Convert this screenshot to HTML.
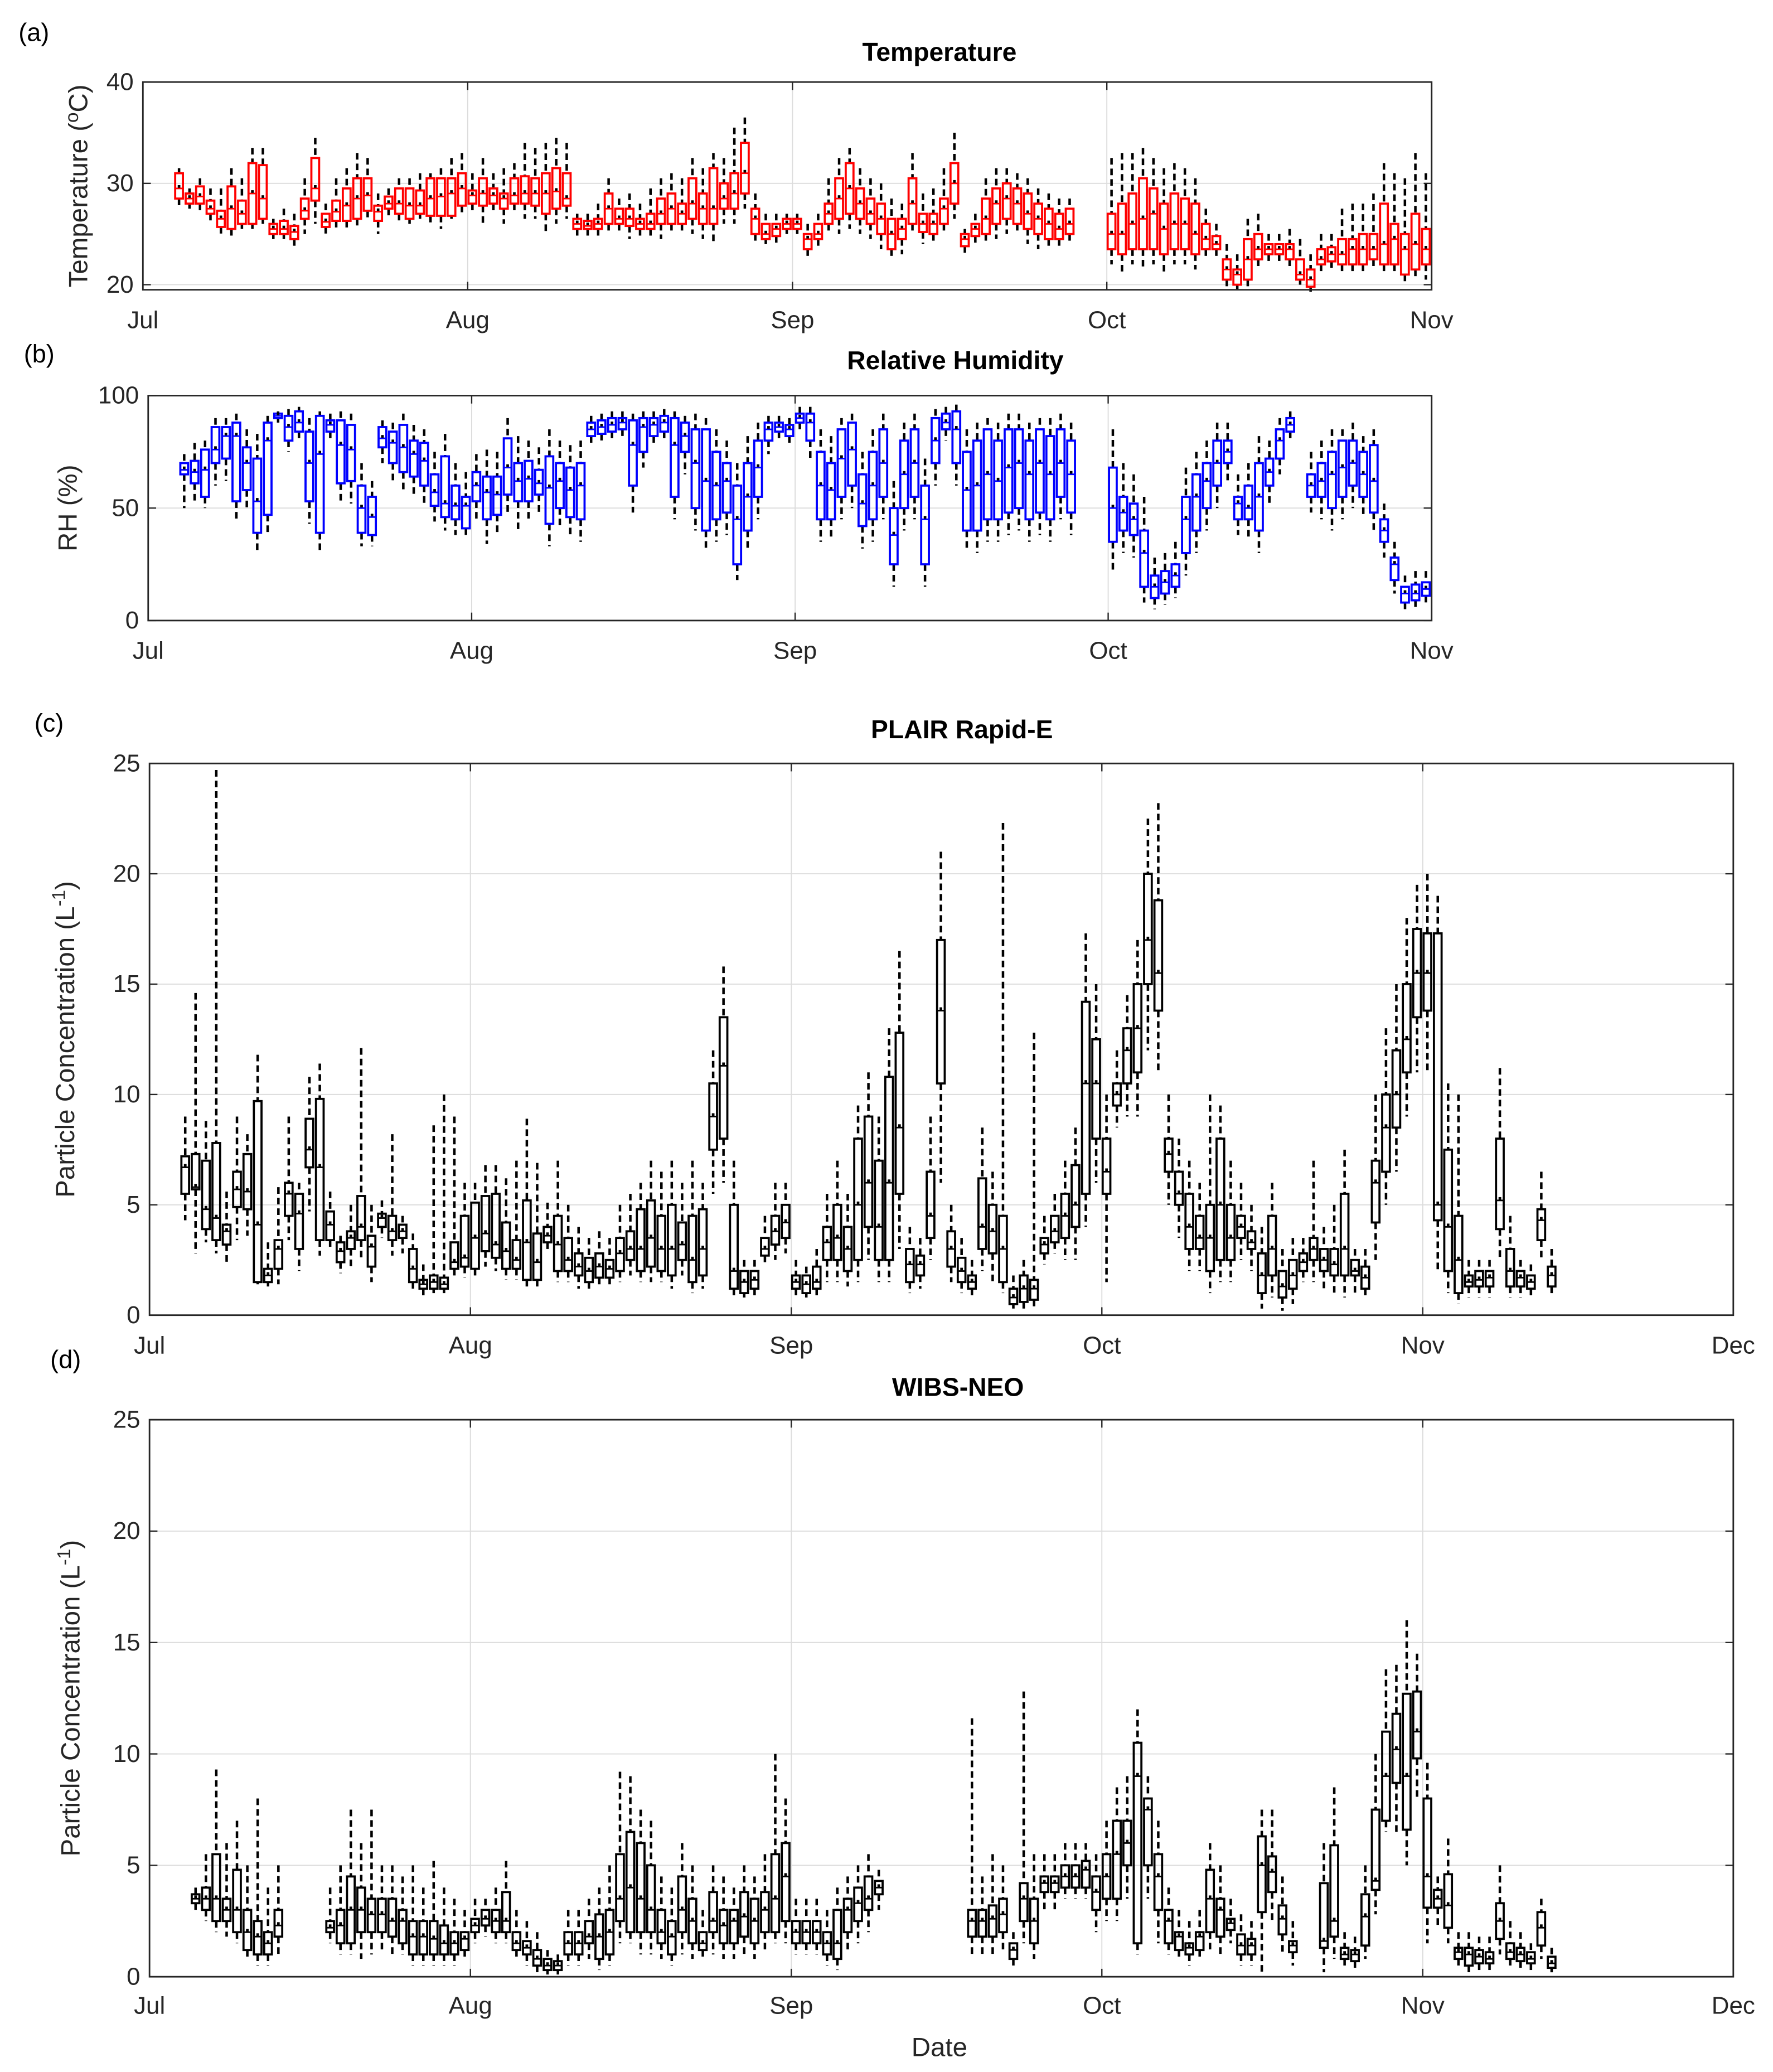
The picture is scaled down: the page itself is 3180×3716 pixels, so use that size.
<!DOCTYPE html>
<html><head><meta charset="utf-8"><style>
html,body{margin:0;padding:0;background:#fff;}
svg{display:block;font-family:"Liberation Sans",Arial,sans-serif;}
</style></head>
<body>
<svg id="fig" xmlns="http://www.w3.org/2000/svg" width="3180" height="3716" viewBox="0 0 1340 1566" preserveAspectRatio="none">
<rect x="0" y="0" width="1340" height="1566" fill="#fff"/>
<g id="static"></g>
</svg>
<script>
// ---------- Month ticks ----------
const monthNames = ["Jul","Aug","Sep","Oct","Nov","Dec"];
const monthDays = [0,31,62,92,123,153];

// ---------- (a) Temperature ----------
const tDays = [3,4,5,6,7,8,9,10,11,12,13,14,15,16,17,18,19,20,21,22,23,24,25,26,27,28,29,30,
31,32,33,34,35,36,37,38,39,40,41,42,43,44,45,46,47,48,49,50,51,52,53,54,55,56,57,58,59,60,61,
62,63,64,65,66,67,68,69,70,71,72,73,74,75,76,77,78,79,80,81,82,83,84,85,86,87,88,
92,93,94,95,96,97,98,99,100,101,102,103,104,105,106,107,108,109,110,111,112,113,114,115,116,117,118,119,120,121,122];
const tMed = [29.5,28.5,28.7,27.5,26.5,27.5,27,29,28.5,25.5,25.5,25.2,27.3,29.5,26.2,27.2,27.8,28.5,28.8,27.2,28,28,27.8,27.8,28.5,28.7,29,29.5,
28.8,29,28.8,28.5,28.8,29,29,29,29.2,28.5,26,25.8,26,27.5,26.5,26.5,26,26,27,27.5,27,28,27.5,27.5,28.5,29,31,26.5,25,25.5,26,
26,24.5,25,27,28.5,29.5,28,27,26.5,25,25.5,28,26,26,27.5,30,24.5,25.5,26.5,28,28.5,28,27,26.5,26,25.5,26,
25,25,26,26.5,27,25.5,26,26,25,24.5,24,21.5,21,22.5,23.5,23.5,23.5,23.5,21,20.5,22.5,23,23,23.5,23.5,23.5,24,24.5,23.5,24,23.5];
const tQ1 = [28.5,28,28,27,25.7,25.5,26,26,26.5,25,25,24.5,26.5,28.3,25.7,26.3,26.3,26.5,27.3,26.3,27.5,27,26.5,27,26.8,26.8,26.8,27.8,
28,27.8,28,27.5,28,28,27.8,27,27.5,27.8,25.5,25.5,25.5,26,26,25.8,25.5,25.5,26,26,26,26.5,26,26,27.5,27.5,29,25,24.5,24.8,25.5,
25.5,23.5,24.5,26,26.5,27,26.5,26,25,23.5,24.5,26,25.2,25,26,28,23.8,24.8,25,26,26.5,26,25.5,25,24.5,24.5,25,
23.5,23,23.5,23.5,23.5,23,23.5,23.5,23,23.5,23.5,20.5,20,20.5,22.5,23,23,22.5,20.5,19.8,22,22.3,22,22,22,22.5,22,22,21,21.5,22];
const tQ3 = [31,29,29.7,28.3,27.3,29.7,28.3,32,31.8,26,26.3,25.8,28.5,32.5,27,28.3,29.5,30.5,30.5,27.8,28.7,29.5,29.5,29.3,30.5,30.5,30.5,31,
29.3,30.5,29.5,29,30.5,30.7,30.5,31,31.5,31,26.5,26.3,26.5,29,27.5,27.5,26.5,27,28.5,29,28,30.5,29,31.5,30,31,34,27.5,26,26,26.5,
26.5,25,26,28,30.5,32,29.5,28.5,28,26.5,26.5,30.5,27,27,28.5,32,25,26,28.5,29.5,30,29.5,29,28,27.5,27,27.5,
27,28,29,30.5,29.5,28,29,28.5,28,26,24.8,22.5,21.5,24.5,25,24,24,24,22.5,21.5,23.5,23.7,24.5,24.5,25,25,28,26,25,27,25.5];
const tLo = [27.8,27.5,27,26,25,24.5,25.5,25.5,26,24.5,24.5,23.8,25,26,25,25.5,25.5,25.5,26.5,25,26.5,26,26,26.5,26,25.5,26.5,27,
27,26,27,26,27,26.5,26.5,25,26,26.5,24.5,24.5,24.5,25,25,24.5,24.5,24.5,24.5,25,25,25,24.5,24,26,26,27.5,24,24,24,25,
25,22.5,23.5,25,25,25.5,25,24.5,23.5,22.5,23,25,24,24,25,26.5,23,24,24,24.5,25,25,24,23.5,23.5,23.5,24,
22,21,22,21.5,22,21,22,22,21.5,22.5,22.5,19.5,19.5,19.5,21.5,22,22,21.5,20,19.3,21,21.5,21,21,21,21.5,21,21,20,20.5,20.5];
const tHi = [31.5,29.5,30.5,29.5,29.5,31.5,30.5,33.5,33.5,26.5,27.5,27,30.5,34.5,28,30.5,31.5,33,32.5,29,29.5,30.5,30.5,31,31,31.5,32.5,33,
31,32.5,31,31.5,32,34,33.5,34,34.5,34,27,27,28,30.5,28.5,29,28,29.5,30.5,31,30.5,32.5,31.5,33,32.5,35.5,36.5,29,27,27,27,
27,26,27,30.5,32.5,33.5,31.5,30.5,30,28.5,28,33,29,29.5,31.5,35,25.5,27,30.5,31.5,31.5,31,30.5,29.5,29,28.5,28.5,
32.5,33,33,33.5,32.5,31.5,32,31.5,30.5,27.5,26,24,23,26.5,27,25,25,25.5,24.5,23,25,25,27.5,28,28,29,32,31,30.5,33,31];
const tTicks = [20,30,40];

// ---------- (b) Relative humidity ----------
const rDays = [3,4,5,6,7,8,9,10,11,12,13,14,15,16,17,18,19,20,21,
22,23,24,25,26,27,28,29,30,31,32,33,34,35,36,37,38,39,40,41,42,43,44,45,46,47,48,49,50,51,52,53,54,55,56,57,58,59,60,61,
62,63,64,65,66,67,68,69,70,71,72,73,74,75,76,77,78,79,80,81,82,83,84,85,86,87,88,
92,93,94,95,96,97,98,99,100,101,102,103,104,105,106,107,108,109,
111,112,113,114,115,116,117,118,119,120,121,122];
const rMed = [67,66,67,76,82,82,70,53,80,91,86,88,70,74,87,78,76,50,46,
81,79,77,74,71,57,52,51,51,60,57,56,68,62,63,61,59,62,58,60,85,86,87,88,78,86,87,88,78,82,70,62,60,62,45,55,68,85,86,85,
90,88,60,58,72,76,52,60,70,38,65,70,45,80,88,85,58,60,65,62,68,70,65,70,65,70,65,
50,48,45,30,15,17,20,45,55,62,70,75,52,50,55,66,80,87,
60,62,65,68,70,65,62,40,25,12,12,14];
const rQ1 = [65,61,55,70,72,53,58,39,47,90,80,84,53,39,84,61,62,39,38,
77,70,66,64,60,51,46,45,41,53,45,47,56,53,53,56,43,50,46,45,82,83,84,85,60,75,82,84,55,75,50,40,45,48,25,40,55,80,84,82,
88,80,45,45,55,60,42,45,55,25,50,55,25,70,85,70,40,40,45,45,48,50,45,48,45,55,48,
35,40,38,15,10,12,15,30,40,50,60,70,45,45,40,60,72,84,
55,55,50,55,60,55,48,35,18,8,9,11];
const rQ3 = [70,71,76,86,86,88,77,72,88,92,91,93,84,91,89,89,87,60,55,
86,84,87,80,79,65,73,60,55,66,64,64,81,70,71,67,73,70,68,70,88,89,90,90,89,90,90,91,90,88,85,85,75,70,60,70,80,88,88,87,
92,92,75,70,85,88,65,75,85,50,80,85,60,90,92,93,75,80,85,80,85,85,80,85,82,85,80,
68,55,52,40,20,22,25,55,65,70,80,80,55,60,70,72,85,90,
65,70,75,80,80,75,78,45,28,15,16,17];
const rLo = [50,53,50,60,62,45,50,30,38,88,75,80,43,30,80,52,52,33,33,
70,62,57,56,52,44,40,38,37,44,34,38,48,40,44,47,33,42,38,35,78,80,80,82,48,68,78,80,45,65,40,32,35,38,18,32,45,74,80,78,
84,72,35,36,45,50,32,35,45,15,40,45,15,60,80,60,32,30,35,35,38,40,35,38,35,45,38,
22,30,28,8,5,7,10,20,30,40,50,62,38,36,30,52,65,80,
48,45,40,45,50,46,40,28,12,4,5,7];
const rHi = [74,79,80,90,90,92,85,83,91,93,94,95,90,93,92,93,92,70,62,
89,88,92,87,85,75,83,70,66,74,76,75,90,82,80,77,85,80,78,80,91,92,93,93,92,93,93,94,93,91,92,90,85,80,70,82,88,91,91,90,
95,95,85,82,90,92,75,85,92,62,88,92,72,94,95,96,85,88,90,88,92,92,88,90,90,92,88,
85,70,65,55,28,30,35,68,75,80,88,88,65,70,82,80,90,93,
75,80,85,85,88,82,85,52,35,20,22,22];
const rTicks = [0,50,100];

// ---------- (c) PLAIR Rapid-E ----------
const cDays = [3,4,5,6,7,8,9,10,11,12,13,14,15,16,17,18,19,20,21,22,23,24,25,26,27,28,29,30,31,32,33,34,35,36,37,38,39,40,
41,42,43,44,45,46,47,48,49,50,51,52,53,54,55,56,57,58,59,60,61,62,63,64,65,66,67,68,69,70,71,72,73,74,75,76,77,78,79,80,
81,82,83,84,85,86,87,88,89,90,91,92,93,94,95,96,97,98,99,100,101,102,103,104,105,106,107,108,109,110,111,112,113,114,115,
116,117,118,119,120,121,122,123,124,125,126,127,128,129,130,131,132,133,134,135];
const cMed = [6.7,5.8,4.8,4.4,3.8,5.7,5.6,4.1,1.8,3,5.5,4.6,7.5,6.7,4.1,2.9,3.5,4,3.1,4.4,3.8,3.8,2.1,1.4,1.5,1.4,2.4,2.6,3.5,3.7,3.2,2.9,2.5,3.3,2.4,3.6,3.2,2.5,
2.2,2,2.2,2.1,2.8,3,3,3.5,3,3,3.2,2.5,3,9,11.3,2,1.5,1.6,3,3.8,4.2,1.5,1.4,1.5,3.3,3.5,3,5,6,4,6,8.5,2.3,2.3,4.5,13.8,3,2,1.5,4,
3.8,3,0.8,1.2,1.2,3.2,3.8,4.5,5,10.5,10.5,6.5,10,12,13,17,15.5,7.3,5.5,4,3.5,3.5,5,3.5,4,3.3,1.8,3,1.3,1.8,2.4,3,2.5,2.3,3,
2,1.7,6,8.5,10,12.5,15.5,15.5,5,4,2.5,1.5,1.6,1.7,5.2,2,1.7,1.5,4.3,1.8];
const cQ1 = [5.5,5.7,3.9,3.4,3.2,4.9,4.8,1.5,1.5,2.1,4.5,3,6.7,3.4,3.4,2.4,3,3.4,2.2,4,3.4,3.5,1.5,1.2,1.2,1.2,2.1,2.2,2.1,2.9,2.6,2.1,2.1,1.6,1.6,3.3,2,2,
1.8,1.5,1.7,1.7,2,2.5,2,2.2,2,1.8,2.5,1.5,1.8,7.5,8,1.2,1,1.2,2.7,3.2,3.5,1.2,1,1.2,2.5,2.5,2,2.5,4,2.5,2.5,5.5,1.5,1.8,3.5,10.5,2.2,1.5,1.2,3,
2.8,1.5,0.5,0.6,0.7,2.8,3.3,3.5,4,5.5,8,5.5,9.5,10.5,11,15,13.8,6.5,5,3,3,2,2.5,2.5,3.5,3,1,1.8,0.8,1.2,2,2.5,2,1.8,1.8,
1.8,1.2,4.2,6.5,8.5,11,13.5,13.8,4.3,2,1,1.3,1.3,1.3,3.9,1.3,1.3,1.2,3.4,1.3];
const cQ3 = [7.2,7.3,7,7.8,4.1,6.5,7.3,9.7,2.1,3.4,6,5.5,8.9,9.8,4.7,3.3,3.8,5.4,3.6,4.6,4.5,4.1,3,1.6,1.8,1.7,3.3,4.5,5.1,5.4,5.5,4.2,3.4,5.2,3.7,4,4.5,3.5,
2.8,2.6,2.8,2.5,3.5,3.8,4.8,5.2,4.5,5,4.2,4.5,4.8,10.5,13.5,5,2,2,3.5,4.5,5,1.8,1.8,2.2,4,5,4,8,9,7,10.8,12.8,3,2.7,6.5,17,3.8,2.6,1.8,6.2,
5,4.5,1.2,1.8,1.6,3.5,4.5,5.5,6.8,14.2,12.5,8,10.5,13,15,20,18.8,8,6.5,5.5,4.5,5,8,5,4.5,3.8,2.8,4.5,2,2.5,2.8,3.5,3,3,5.5,
2.5,2.2,7,10,12,15,17.5,17.3,17.3,7.5,4.5,1.8,2,2,8,3,2,1.8,4.8,2.2];
const cLo = [4.3,2.8,3.3,2.8,2.3,3.4,3.6,1.4,1.3,1.4,3.4,2,4.7,2.7,3,1.9,2.1,2.6,1.5,3.5,2.7,2.8,1.2,0.9,1,1,1.7,1.7,1.7,2.2,2,1.6,1.6,1.3,1.2,3,1.5,1.5,
1.2,1.2,1.3,1.3,1.5,1.8,1.5,1.5,1.5,1.2,1.8,1,1.2,5.5,6,0.8,0.8,0.9,2.3,2.5,2.8,0.9,0.8,0.9,1.5,1.5,1.3,1.5,2.5,1.5,1.5,3,1,1.2,2.5,6,1.5,1,0.8,2,
1.5,1,0.3,0.3,0.4,2.3,2.8,2.5,2.5,4,6,1.5,8.5,9,9,12,11,5,3.5,2,2,1,1.5,1.5,2.5,2,0.3,0.8,0.2,0.5,1.5,1.5,1.2,1,0.8,
1,0.8,2.5,5,6.5,9,11,11,2,1,0.5,0.8,0.8,0.8,2.5,0.8,0.8,0.8,2.5,1];
const cHi = [9,14.6,8.8,24.7,5.6,9,8.2,11.8,3.3,5.8,9,6,10.8,11.4,5.6,3.6,5,12.1,5,5.2,8.2,4.5,3.7,2.3,8.6,10,9,6,6,6.8,6.8,6.2,7,8.9,6.9,5.1,7,5,
4,3.5,3.8,3.5,5,5.5,6,7,6.5,7,6,7,6,12,15.8,7,2.5,2.5,4.5,6,6,2.5,2.2,3,5.5,7,5.5,9.5,11,9,13,16.5,4,3.5,9,21,5,3.5,2.5,8.5,
6.5,22.3,1.8,2.5,12.8,4.5,5.5,7,8.5,17.3,15,10,12,14.5,17,22.5,23.2,10,8,7,6,10,9.5,7,6,5,4,6,3,3.5,3.5,7,4,5,7.5,
3,3,10,13,15,18,19.5,20,19,10.5,10,2.5,2.5,2.5,11.2,4.5,2.5,2.3,6.5,3];
const cTicks = [0,5,10,15,20,25];

// ---------- (d) WIBS-NEO ----------
const dDays = [4,5,6,7,8,9,10,11,12,
17,18,19,20,21,22,23,24,25,26,27,28,29,30,31,32,33,34,35,36,37,38,39,40,41,42,43,44,45,46,47,48,49,50,51,52,53,54,55,56,57,58,59,60,61,62,63,64,65,66,67,68,69,70,
79,80,81,82,83,84,85,86,87,88,89,90,91,92,93,94,95,96,97,98,99,100,101,102,103,104,105,106,107,108,109,110,
113,114,115,116,117,118,119,120,121,122,123,124,125,126,127,128,129,130,131,132,133,134,135];
const dMed = [3.5,3.5,3.5,3,3,2,1.8,1.5,2.3,
2.2,2.3,3,3,2.8,2.8,2.5,2.5,1.8,1.8,1.7,1.5,1.5,1.7,2.3,2.6,2.5,2.5,1.5,1.3,0.8,0.5,0.5,1.5,1.5,1.8,1.8,2,3.5,4,3.5,3,2,1.8,3,2.5,1.5,2.5,2.3,2.5,2.7,2.5,3,3.5,4.5,2,2,2,1.5,1.5,3,3.3,3.5,4,
2.5,2.5,2.6,2.8,1.2,3.5,2.5,4.2,4.2,4.5,4.5,4.8,3.8,4.5,5.5,6,9,7.5,4.5,2.5,1.8,1.3,1.8,3.5,3,2.4,1.4,1.4,5,4.7,2.6,1.4,
1.6,2.5,1,1,2.7,4.3,9,10.2,9,11,4.5,3.5,3.2,1.1,1,0.9,0.8,2.5,1.1,1,0.8,2.2,0.6];
const dQ1 = [3.3,3,2.5,2.5,2,1.2,1,1,1.8,
2,1.5,1.5,2,2,2,1.8,1.5,1,1,1,1,1,1.2,2,2.3,2,2,1.2,1,0.5,0.3,0.3,1,1,1.5,0.8,1,2.5,2,2,2,1.5,1,2,1.5,1.2,2,1.5,1.5,1.8,1.5,2,2,2.5,1.5,1.5,1.5,1,0.8,2,2.5,3,3.7,
1.8,1.8,1.8,2,0.8,2.5,1.5,3.8,3.8,4,4,4,3,3.5,3.5,5,1.5,5,3,1.5,1.2,1,1.2,2,1.8,2.1,1,1,2.9,3.8,1.9,1.1,
1.3,1.8,0.8,0.7,1.4,3.9,7,8.7,6.6,9.8,3.1,3.1,2.2,0.8,0.5,0.6,0.6,1.7,0.8,0.7,0.6,1.4,0.4];
const dQ3 = [3.7,4,5.5,3.5,4.8,3,2.5,2,3,
2.5,3,4.5,4,3.5,3.5,3.5,3,2.5,2.5,2.5,2.3,2,2,2.6,3,3,3.8,2,1.6,1.2,0.8,0.7,2,2,2.5,2.8,3,5.5,6.5,6,5,3,2.5,4.5,3.5,2,3.8,3,3,3.8,3.5,3.8,5.5,6,2.5,2.5,2.5,2,3,3.5,4,4.5,4.3,
3,3,3.2,3.5,1.5,4.2,3.5,4.5,4.5,5,5,5.2,4.5,5.5,7,7,10.5,8,5.5,3,2,1.5,2,4.8,3.5,2.6,1.9,1.7,6.3,5.4,3.2,1.6,
4.2,5.9,1.3,1.2,3.7,7.5,11,11.8,12.7,12.8,8,3.9,4.6,1.3,1.3,1.2,1.1,3.3,1.5,1.3,1.1,2.9,0.9];
const dLo = [3,2.5,2,1.8,1.5,0.8,0.5,0.5,1,
1.5,1,1,0.8,1,1.2,1,1,0.5,0.5,0.5,0.5,0.5,0.8,1.5,1.8,1.5,1.5,0.8,0.5,0.2,0.1,0.1,0.5,0.5,0.8,0.3,0.5,1.5,1.5,1,1,0.8,0.5,1,0.8,0.8,1,0.8,0.8,1,0.8,1.2,1.5,1.5,1,1,1,0.5,0.3,1.2,1.5,2,3,
1,1,1,1.2,0.5,1.5,0.8,3,3,3.5,3.5,3.5,2,2.5,2.5,3.5,1,3.5,1.5,1,0.8,0.5,0.8,1.2,1,1.5,0.5,0.5,0.2,2.5,1,0.5,
0.2,0.8,0.4,0.3,0.8,2.8,6.5,6.5,5,8,1.5,2.2,1.5,0.4,0.2,0.3,0.3,1,0.4,0.3,0.3,0.8,0.2];
const dHi = [4,5.5,9.3,6,7,5,8,4,5,
4,5,7.5,6,7.5,5,5,4.5,5,4,5.2,4,3.5,3,3.5,3.5,4,5.2,3,2.5,2,1.2,1,3,3,3.5,4,5,9.2,9,7.5,7,4.5,4,6,5,3,5,4.5,4,5,4.5,5.5,10,8,3.5,3.5,3.5,3,4,4.5,5,5.5,4.8,
11.6,4.5,5.5,5,2,12.8,5.5,5.5,5.5,6,6,6,5.5,7,8.5,9,12,9,7,4,3,2.5,3,6,5,3.5,2.8,2.5,7.5,7.5,4.5,2.5,
6,8.5,2,1.8,5,10,13.8,14,16,14.5,9.6,4.5,6.2,2,2,1.8,1.8,5,2.5,2,1.5,3.5,1.3];
const dTicks = [0,5,10,15,20,25];

// ---------- Layout ----------
const NS = "http://www.w3.org/2000/svg";
const fig = document.getElementById("static");
function mk(tag, attrs, parent) {
  const e = document.createElementNS(NS, tag);
  for (const k in attrs) e.setAttribute(k, attrs[k]);
  (parent || fig).appendChild(e);
  return e;
}
const panels = [
  {id:"temperature", x0:108, x1:1082, y0:62, y1:219, vmin:19.5, vmax:40, ndays:123, months:5, color:"#ff0000",
   ticks:tTicks, days:tDays, lo:tLo, q1:tQ1, med:tMed, q3:tQ3, hi:tHi, title:"Temperature", tx:710, ty:46, xlabY:248, ylab:"temp", ylx:66, lab:"(a)", lx:14, ly:31},
  {id:"humidity", x0:112, x1:1082, y0:299, y1:469, vmin:0, vmax:100, ndays:123, months:5, color:"#0000ff",
   ticks:rTicks, days:rDays, lo:rLo, q1:rQ1, med:rMed, q3:rQ3, hi:rHi, title:"Relative Humidity", tx:722, ty:279, xlabY:498, ylab:"RH (%)", ylx:58, lab:"(b)", lx:18, ly:274},
  {id:"plair", x0:113, x1:1310, y0:577, y1:994, vmin:0, vmax:25, ndays:153, months:6, color:"#000000",
   ticks:cTicks, days:cDays, lo:cLo, q1:cQ1, med:cMed, q3:cQ3, hi:cHi, title:"PLAIR Rapid-E", tx:727, ty:558, xlabY:1023, ylab:"conc", ylx:56, lab:"(c)", lx:26, ly:553},
  {id:"wibs", x0:113, x1:1310, y0:1073, y1:1494, vmin:0, vmax:25, ndays:153, months:6, color:"#000000",
   ticks:dTicks, days:dDays, lo:dLo, q1:dQ1, med:dMed, q3:dQ3, hi:dHi, title:"WIBS-NEO", tx:724, ty:1055, xlabY:1522, ylab:"conc", ylx:60, lab:"(d)", lx:38, ly:1034}
];

panels.forEach(P => {
  const g = mk("g", {});
  
  
  const xs = d => P.x0 + d * (P.x1 - P.x0) / ((P.months === 5) ? 123 : 153);
  const ys = v => P.y1 - (v - P.vmin) * (P.y1 - P.y0) / (P.vmax - P.vmin);
  P.ticks.forEach(t => {
    const y = ys(t);
    const gl = mk("line", {x1:P.x0, x2:P.x1, y1:y, y2:y, stroke:"#dcdcdc", "stroke-width":0.8}, g);
    
    
    const tk = mk("line", {x1:P.x0, x2:P.x0+6, y1:y, y2:y, stroke:"#262626", "stroke-width":1}, g);
    
    
    const tk2 = mk("line", {x1:P.x1-6, x2:P.x1, y1:y, y2:y, stroke:"#262626", "stroke-width":1}, g);
    
    
    const tl = mk("text", {x:P.x0-7, y:y+6, "text-anchor":"end", "font-size":18.5, fill:"#262626"}, g);
    tl.textContent = t;
    
    
  });
  for (let m = 0; m < P.months; m++) {
    const x = xs(monthDays[m]);
    if (m > 0 && m < P.months - 1) {
      const gl = mk("line", {x1:x, x2:x, y1:P.y0, y2:P.y1, stroke:"#dcdcdc", "stroke-width":0.8}, g);
      
      
      const tk = mk("line", {x1:x, x2:x, y1:P.y1-6, y2:P.y1, stroke:"#262626", "stroke-width":1}, g);
      
      
      const tk2 = mk("line", {x1:x, x2:x, y1:P.y0, y2:P.y0+6, stroke:"#262626", "stroke-width":1}, g);
      
      
    }
    const tl = mk("text", {x:x, y:P.xlabY, "text-anchor":"middle", "font-size":18.5, fill:"#262626"}, g);
    tl.textContent = monthNames[m];
    
    
  }
  const bw = 0.74 * (P.x1 - P.x0) / ((P.months === 5) ? 123 : 153);
  for (let i = 0; i < P.days.length; i++) {
    const cx = xs(P.days[i] + 0.45);
    const w1 = mk("line", {x1:cx, x2:cx, y1:ys(P.hi[i]), y2:ys(P.q3[i]), stroke:"#000", "stroke-width":1.9, "stroke-dasharray":"5,3"}, g);
    
    
    const w2 = mk("line", {x1:cx, x2:cx, y1:ys(P.q1[i]), y2:ys(P.lo[i]), stroke:"#000", "stroke-width":1.9, "stroke-dasharray":"5,3"}, g);
    
    
    const bx = mk("rect", {x:cx-bw/2, y:ys(P.q3[i]), width:bw, height:Math.max(0.8, ys(P.q1[i]) - ys(P.q3[i])), fill:"none", stroke:P.color, "stroke-width":1.6}, g);
    
    
    const md = mk("line", {x1:cx-bw/2, x2:cx+bw/2, y1:ys(P.med[i]), y2:ys(P.med[i]), stroke:P.color, "stroke-width":1.2}, g);
    
    
    const dt = mk("rect", {x:cx-1, y:ys(P.med[i])-2.5, width:2, height:2, fill:"#000"}, g);
    
    
  }
  const fr = mk("rect", {x:P.x0, y:P.y0, width:P.x1-P.x0, height:P.y1-P.y0, fill:"none", stroke:"#262626", "stroke-width":1.2}, g);
  
  
  const ti = mk("text", {x:P.tx, y:P.ty, "text-anchor":"middle", "font-size":19.5, "font-weight":"bold", fill:"#000"}, g);
  ti.textContent = P.title;
  
  
  const pl = mk("text", {x:P.lx, y:P.ly, "font-size":19, fill:"#000"}, g);
  pl.textContent = P.lab;
  
  
  const cy = (P.y0 + P.y1) / 2;
  const yl = mk("text", {x:0, y:0, "text-anchor":"middle", "font-size":20, fill:"#262626", transform:"translate(" + P.ylx + "," + cy + ") rotate(-90)"}, g);
  
  
  if (P.ylab === "temp") {
    yl.innerHTML = 'Temperature (<tspan dy="-7" font-size="14">o</tspan><tspan dy="7">C)</tspan>';
  } else if (P.ylab === "conc") {
    yl.innerHTML = 'Particle Concentration (L<tspan dy="-7" font-size="14">-1</tspan><tspan dy="7">)</tspan>';
  } else {
    yl.textContent = P.ylab;
  }
});
const dl = mk("text", {x:710, y:1554, "text-anchor":"middle", "font-size":20, fill:"#262626"});
dl.textContent = "Date";


</script>
</body></html>
